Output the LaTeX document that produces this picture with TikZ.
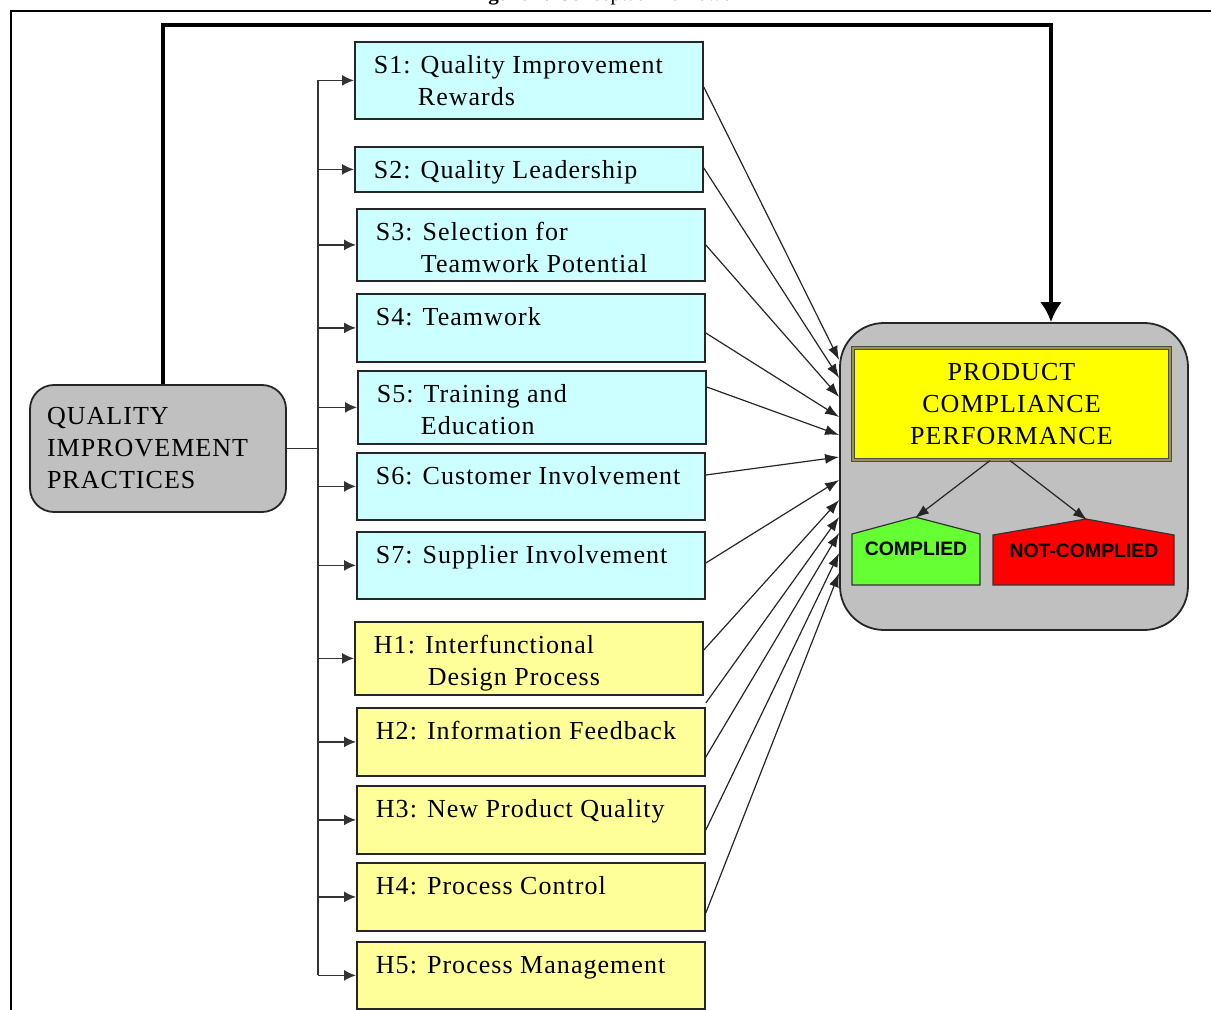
\documentclass[tikz,border=0pt]{standalone}
\usepackage{fontspec}
\setmainfont{Liberation Serif}
\newfontfamily\wideserif{Liberation Serif}[LetterSpace=4]
\newfontfamily\tagsans{Liberation Sans}
\usetikzlibrary{arrows.meta}
\usepackage{xcolor}
\definecolor{boxcyan}{HTML}{CCFFFF}
\definecolor{boxyellow}{HTML}{FFFF99}
\definecolor{panelgray}{HTML}{C0C0C0}
\definecolor{pcpyellow}{HTML}{FFFF00}
\definecolor{okgreen}{HTML}{66FF33}
\definecolor{badred}{HTML}{FF0000}
% box text: fixed height, lines never broken
\newcommand{\boxtext}[2]{\parbox[t][#1][t]{155pt}{\begin{tabular}[t]{@{}l@{}}#2\end{tabular}}}

\tikzset{
    sbox/.style={
        draw=black!85,
        line width=0.9pt,
        anchor=north west,
        inner xsep=9.5pt,
        inner ysep=4.5pt,
        font=\wideserif\fontsize{13}{16}\selectfont
    },
    sfactor/.style={sbox,fill=boxcyan},
    hfactor/.style={sbox,fill=boxyellow},
    feed/.style={draw=black!80,line width=0.7pt,-{Latex[length=6pt,width=5.5pt]}},
    outarrow/.style={draw=black!85,line width=0.6pt,-{Latex[length=7pt,width=5pt]}},
    tagtext/.style={font=\tagsans\bfseries\fontsize{9.7}{11}\selectfont}
}

\begin{document}
\begin{tikzpicture}[x=0.5pt,y=-0.5pt]
        \useasboundingbox (0,0) rectangle (1211,1010);
        % caption and frame
        \node[anchor=base east,font=\fontsize{10.5}{12}\selectfont] (caption) at (757,1)
            {\textbf{Figure 2.} Conceptual framework};
        \draw[line width=1pt] (11,1010) -- (11,11) -- (1211,11);
        % outcome panel
        \node[draw=black!85,fill=panelgray,line width=0.9pt,rounded corners=22pt,
            minimum width=174pt,minimum height=153.5pt] (outcome) at (1014,476.5) {};
        \node[draw=black!70,double=yellow!55!black,double distance=1pt,line width=0.6pt,
            fill=pcpyellow,minimum width=158.5pt,minimum height=56pt,align=center,
            font=\wideserif\fontsize{13}{16}\selectfont] (pcp) at (1011.5,404)
            {PRODUCT\\COMPLIANCE\\PERFORMANCE};
        \filldraw[fill=okgreen,draw=black!80,line width=0.6pt]
            (852,585) -- (852,534) -- (915,517) -- (980,534) -- (980,585) -- cycle;
        \filldraw[fill=badred,draw=black!80,line width=0.6pt]
            (993,585) -- (993,535) -- (1086,519) -- (1174,535) -- (1174,585) -- cycle;
        \coordinate (comptop) at (915,518);
        \coordinate (nottop) at (1087,520);
        \node[tagtext] (complied) at (916,549) {COMPLIED};
        \node[tagtext] (notcomplied) at (1084,551) {NOT-COMPLIED};
        \draw[outarrow] ([xshift=-10.75pt]pcp.south) -- (comptop);
        \draw[outarrow] ([xshift=-0.75pt]pcp.south) -- (nottop);
        % practices
        \node[draw=black!85,fill=panelgray,line width=0.9pt,rounded corners=12pt,
            minimum width=128pt,minimum height=63.5pt,text width=111pt,inner xsep=8.5pt,
            align=left,font=\wideserif\fontsize{13}{16}\selectfont] (qip) at (158,448.5)
            {QUALITY\\IMPROVEMENT\\PRACTICES};
        % soft factors
        \node[sfactor] (s1) at (354,41) {\boxtext{29.5pt}{S1: Quality Improvement\\\hspace*{22pt}Rewards}};
        \node[sfactor] (s2) at (354,146) {\boxtext{13.5pt}{S2: Quality Leadership}};
        \node[sfactor] (s3) at (356,208) {\boxtext{27pt}{S3: Selection for\\\hspace*{22.5pt}Teamwork Potential}};
        \node[sfactor] (s4) at (356,293) {\boxtext{25pt}{S4: Teamwork}};
        \node[sfactor] (s5) at (357,370) {\boxtext{27.5pt}{S5: Training and\\\hspace*{22pt}Education}};
        \node[sfactor] (s6) at (356,452) {\boxtext{24.5pt}{S6: Customer Involvement}};
        \node[sfactor] (s7) at (356,531) {\boxtext{24.5pt}{S7: Supplier Involvement}};
        % hard factors
        \node[hfactor] (h1) at (354,621) {\boxtext{27.5pt}{H1: Interfunctional\\\hspace*{27pt}Design Process}};
        \node[hfactor] (h2) at (356,707) {\boxtext{25pt}{H2: Information Feedback}};
        \node[hfactor] (h3) at (356,785) {\boxtext{25pt}{H3: New Product Quality}};
        \node[hfactor] (h4) at (356,862) {\boxtext{25pt}{H4: Process Control}};
        \node[hfactor] (h5) at (356,941) {\boxtext{24.5pt}{H5: Process Management}};
        % trunk from practices to every factor
        \coordinate (trunk) at (318,447);
        \draw[draw=black!80,line width=0.7pt] (qip.east) -- (qip.east -| trunk);
        \draw[draw=black!80,line width=0.7pt] (s1.west -| trunk) -- (h5.west -| trunk);
        \foreach \f in {s1,s2,s3,s4,s5,s6,s7,h1,h2,h3,h4,h5}
            \draw[feed] (\f.west -| trunk) -- (\f.west);
        % direct link practices -> outcome
        \draw[line width=2pt,-{Latex[length=10pt,width=11pt]}]
            ([xshift=2.5pt]qip.north) -- ([xshift=2.5pt]qip.north |- 0,25)
            -| ([xshift=18.5pt]outcome.north);
        % factors -> outcome
        \foreach \f/\sy/\ty in {s1/87/360,s2/168/378,s3/245/397,s4/333/417,
            s5/387/435,s6/475/457,s7/563/480,h1/650/500,h2/703/517,
            h2/757/533,h3/830/553,h4/913/573}
            \draw[outarrow] (\f.east |- 0,\sy) -- (outcome.west |- 0,\ty);
\end{tikzpicture}
\end{document}
